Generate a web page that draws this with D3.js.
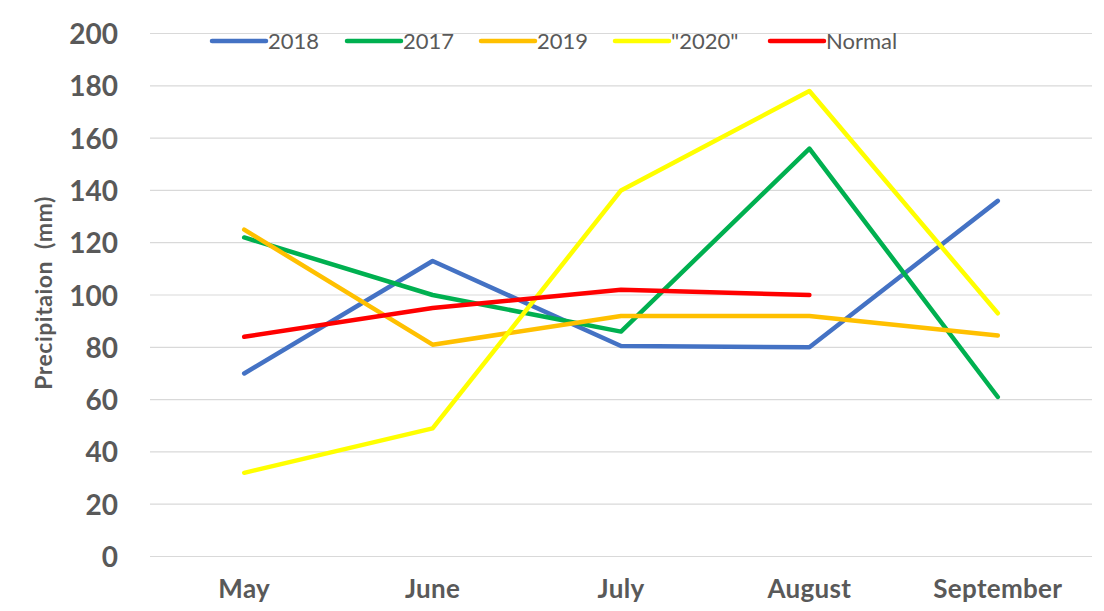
<!DOCTYPE html>
<html>
<head>
<meta charset="utf-8">
<script src="https://cdn.jsdelivr.net/npm/d3@7"></script>
<style>
  body { margin: 0; background: #fff; }
  svg { font-family: Lato, "Open Sans", sans-serif; }
</style>
</head>
<body>
<svg id="chart" width="1104" height="611"></svg>
<script>
const months = ["May", "June", "July", "August", "September"];
const yTicks = [0, 20, 40, 60, 80, 100, 120, 140, 160, 180, 200];

const y2018 = [70, 113, 80.5, 80, 136];
const y2017 = [122, 100, 86, 156, 61];
const y2019 = [125, 81, 92, 92, 84.5];
const y2020 = [32, 49, 140, 178, 93];
const yNormal = [84, 95, 102, 100];

const seriesNames = ["2018", "2017", "2019", "\"2020\"", "Normal"];
const seriesValues = [y2018, y2017, y2019, y2020, yNormal];
const seriesColors = ["#4472C4", "#00B050", "#FFC000", "#FFFF00", "#FF0000"];

const svg = d3.select("#chart");

const x = d3.scaleBand().domain(months).range([150, 1092]);
const y = d3.scaleLinear().domain([0, 200]).range([556.5, 33.5]);

// gridlines
svg.append("g")
  .selectAll("line")
  .data(yTicks)
  .enter()
  .append("line")
  .attr("x1", 150)
  .attr("x2", 1092)
  .attr("y1", d => y(d))
  .attr("y2", d => y(d))
  .attr("stroke", "#D9D9D9")
  .attr("stroke-width", 1.2);

// y axis labels
const yAxis = d3.axisLeft(y).tickValues(yTicks).tickSize(0).tickPadding(0);
const yG = svg.append("g")
  .attr("transform", "translate(118,0)")
  .call(yAxis);
yG.select(".domain").remove();
yG.selectAll("text")
  .attr("font-family", "Lato, sans-serif")
  .attr("font-size", 28)
  .attr("font-weight", "bold")
  .attr("fill", "#595959")
  .attr("dy", "0.36em");

// x axis labels
const xAxis = d3.axisBottom(x).tickSize(0).tickPadding(0);
const xG = svg.append("g")
  .attr("transform", "translate(0,598)")
  .call(xAxis);
xG.select(".domain").remove();
xG.selectAll("text")
  .attr("font-family", "Lato, sans-serif")
  .attr("font-size", 26)
  .attr("font-weight", "bold")
  .attr("letter-spacing", 0.3)
  .attr("fill", "#595959")
  .attr("y", 0)
  .attr("dy", 0);

// y title
svg.append("text")
  .attr("transform", "translate(44,293) rotate(-90)")
  .attr("text-anchor", "middle")
  .attr("dy", "0.36em")
  .attr("font-size", 23)
  .attr("font-weight", "bold")
  .attr("letter-spacing", 0.5)
  .attr("fill", "#595959")
  .style("white-space", "pre")
  .text("Precipitaion  (mm)");

// lines
const line = d3.line()
  .x((d, i) => x(months[i]) + x.bandwidth() / 2)
  .y(d => y(d));

svg.append("g")
  .selectAll("path")
  .data(seriesValues)
  .enter()
  .append("path")
  .attr("d", d => line(d))
  .attr("fill", "none")
  .attr("stroke", (d, i) => seriesColors[i])
  .attr("stroke-width", 4.5)
  .attr("stroke-linecap", "round")
  .attr("stroke-linejoin", "round");

// legend
const legendX = [212, 347, 481, 615, 770];
const legend = svg.append("g")
  .selectAll("g")
  .data(seriesNames)
  .enter()
  .append("g")
  .attr("transform", (d, i) => `translate(${legendX[i]},41)`);

legend.append("line")
  .attr("x1", 0)
  .attr("x2", 54)
  .attr("stroke", (d, i) => seriesColors[i])
  .attr("stroke-width", 4.5)
  .attr("stroke-linecap", "round");

legend.append("text")
  .attr("x", 56)
  .attr("dy", "0.36em")
  .attr("font-size", 22)
  .attr("fill", "#595959")
  .text(d => d);
</script>
</body>
</html>
